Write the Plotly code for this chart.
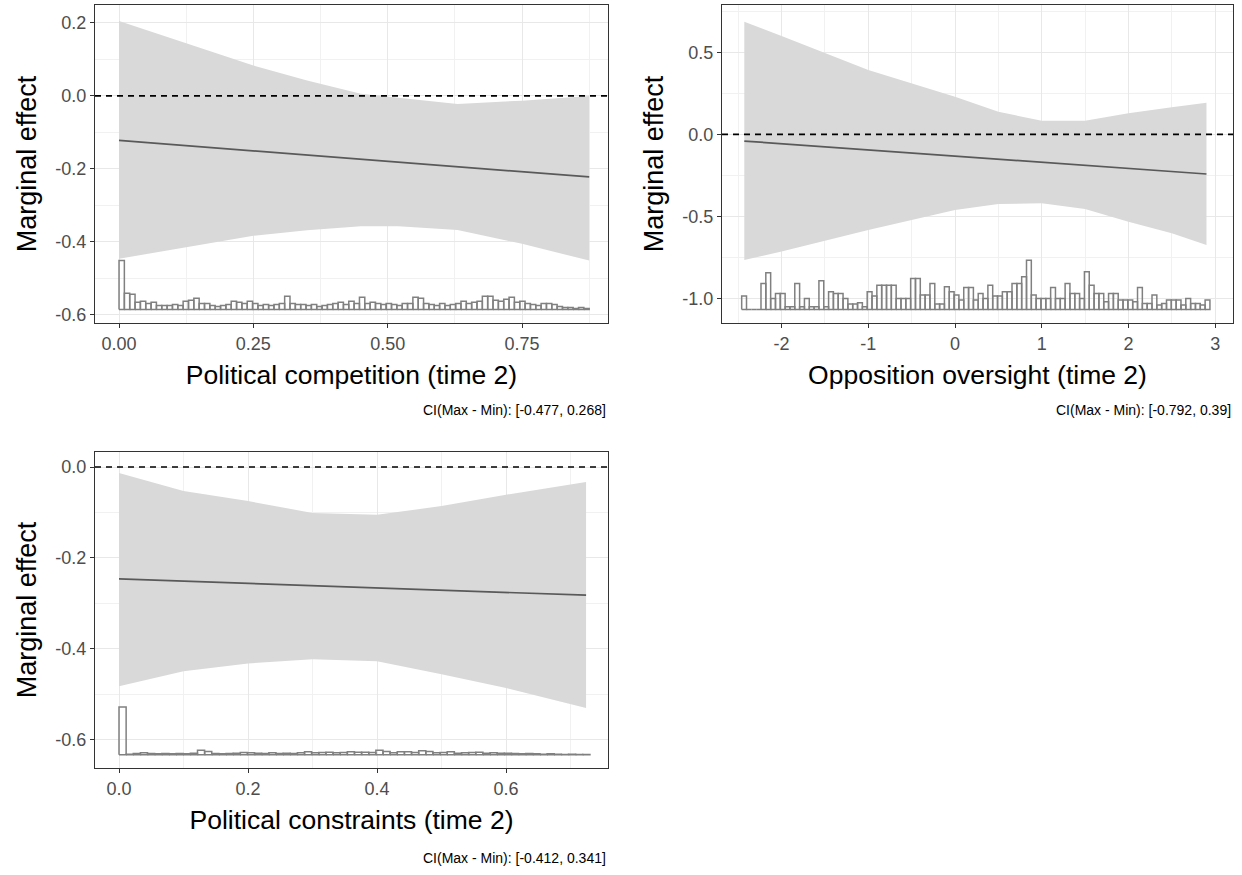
import plotly.graph_objects as go
import numpy as np

# ---------------- data ----------------
# Panel 1: Political competition (time 2)
p1_x = [0, 0.125, 0.25, 0.35, 0.45, 0.52, 0.63, 0.75, 0.875]
p1_upper = [0.205, 0.145, 0.083, 0.042, 0.006, -0.005, -0.022, -0.013, 0.0]
p1_lower = [-0.446, -0.414, -0.383, -0.368, -0.357, -0.357, -0.367, -0.405, -0.451]
p1_line_x = [0, 0.875]
p1_line_y = [-0.122, -0.222]
p1_hist_range = [0, 0.875]
p1_hist_counts = [48, 16, 15, 7, 8, 6, 7, 4, 4, 4,
                  5, 4, 8, 9, 11, 6, 6, 4, 3, 4,
                  5, 8, 7, 6, 8, 6, 4, 5, 4, 5,
                  6, 13, 6, 5, 5, 4, 5, 3, 4, 5,
                  6, 7, 5, 8, 6, 12, 6, 7, 6, 5,
                  6, 5, 4, 6, 6, 12, 11, 6, 5, 4,
                  6, 4, 5, 6, 8, 6, 7, 8, 13, 13,
                  9, 8, 10, 12, 7, 8, 6, 5, 4, 6,
                  6, 5, 3, 2, 2, 1, 2, 1]
p1_hist_base, p1_hist_height = -0.585, 0.134
p1_caption = "CI(Max - Min): [-0.477, 0.268]"

# Panel 2: Opposition oversight (time 2)
p2_x = [-2.43, -2.0, -1.0, -0.5, 0.0, 0.5, 1.0, 1.5, 2.0, 2.5, 2.9]
p2_upper = [0.687, 0.600, 0.392, 0.311, 0.230, 0.138, 0.083, 0.083, 0.128, 0.165, 0.193]
p2_lower = [-0.766, -0.715, -0.583, -0.522, -0.461, -0.425, -0.421, -0.455, -0.533, -0.604, -0.675]
p2_line_x = [-2.43, 2.90]
p2_line_y = [-0.041, -0.242]
p2_hist_range = [-2.46, 2.94]
p2_hist_counts = [40, 0, 0, 0, 78, 110, 33, 48, 48, 8,
                  8, 78, 8, 33, 8, 8, 86, 8, 53, 48,
                  48, 33, 16, 16, 20, 8, 53, 40, 73, 73,
                  73, 73, 33, 33, 33, 93, 93, 43, 43, 78,
                  16, 16, 68, 53, 43, 28, 66, 66, 28, 48,
                  33, 73, 40, 40, 53, 53, 78, 78, 98, 148,
                  43, 33, 33, 33, 66, 33, 33, 78, 48, 48,
                  33, 113, 73, 48, 48, 23, 48, 48, 28, 28,
                  28, 23, 66, 18, 18, 43, 13, 18, 28, 28,
                  28, 13, 33, 18, 18, 13, 28]
p2_hist_base, p2_hist_height = -1.068, 0.30
p2_caption = "CI(Max - Min): [-0.792, 0.39]"

# Panel 3: Political constraints (time 2)
p3_x = [0, 0.1, 0.2, 0.3, 0.4, 0.5, 0.6, 0.724]
p3_upper = [-0.013, -0.053, -0.075, -0.101, -0.105, -0.086, -0.061, -0.033]
p3_lower = [-0.482, -0.449, -0.432, -0.423, -0.427, -0.456, -0.486, -0.530]
p3_line_x = [0, 0.724]
p3_line_y = [-0.246, -0.282]
p3_hist_range = [0, 0.73]
p3_hist_counts = [143, 2, 4, 6, 4, 3, 4, 3, 4, 3,
                  5, 14, 10, 4, 3, 4, 5, 7, 6, 5,
                  4, 6, 4, 5, 4, 6, 9, 6, 7, 8,
                  6, 7, 9, 8, 8, 7, 14, 10, 6, 9,
                  9, 7, 12, 10, 6, 7, 9, 5, 6, 7,
                  8, 5, 6, 5, 5, 4, 3, 4, 3, 2,
                  3, 2, 1, 2, 1, 1]
p3_hist_base, p3_hist_height = -0.633, 0.105
p3_caption = "CI(Max - Min): [-0.412, 0.341]"

x_titles = ["Political competition (time 2)", "Opposition oversight (time 2)",
            "Political constraints (time 2)"]
y_title = "Marginal effect"

x1_ticks = [0, 0.25, 0.5, 0.75]; x1_labels = ["0.00", "0.25", "0.50", "0.75"]
y1_ticks = [-0.6, -0.4, -0.2, 0.0, 0.2]; y1_labels = ["-0.6", "-0.4", "-0.2", "0.0", "0.2"]
x2_ticks = [-2, -1, 0, 1, 2, 3]; x2_labels = ["-2", "-1", "0", "1", "2", "3"]
y2_ticks = [-1.0, -0.5, 0.0, 0.5]; y2_labels = ["-1.0", "-0.5", "0.0", "0.5"]
x3_ticks = [0, 0.2, 0.4, 0.6]; x3_labels = ["0.0", "0.2", "0.4", "0.6"]
y3_ticks = [-0.6, -0.4, -0.2, 0.0]; y3_labels = ["-0.6", "-0.4", "-0.2", "0.0"]

# ---------------- styling ----------------
FONT = "Liberation Sans, Arial, sans-serif"
BAND = "#d9d9d9"
LINE = "#595959"
HIST = "#808080"
GRID = "#e8e8e8"
MINOR = "#f1f1f1"
W, H = 1242, 875

fig = go.Figure()


def add_panel(n, bx, up, lo, lx, ly, hrange, counts, hbase, hheight):
    xa = "x" if n == 1 else f"x{n}"
    ya = "y" if n == 1 else f"y{n}"
    fig.add_trace(go.Scatter(x=list(bx) + list(bx)[::-1], y=list(up) + list(lo)[::-1],
                             fill="toself", fillcolor=BAND, line=dict(width=0),
                             mode="lines", hoverinfo="skip", showlegend=False,
                             xaxis=xa, yaxis=ya))
    edges = np.linspace(hrange[0], hrange[1], len(counts) + 1)
    cmax = max(counts)
    xs, ys = [], []
    for l, r, c in zip(edges[:-1], edges[1:], counts):
        t = hbase + c / cmax * hheight
        xs += [l, l, r, r, l, None]
        ys += [hbase, t, t, hbase, hbase, None]
    fig.add_trace(go.Scatter(x=xs, y=ys, mode="lines", line=dict(color=HIST, width=1.5),
                             hoverinfo="skip", showlegend=False, xaxis=xa, yaxis=ya))
    fig.add_trace(go.Scatter(x=lx, y=ly, mode="lines", line=dict(color=LINE, width=1.7),
                             showlegend=False, xaxis=xa, yaxis=ya))
    fig.add_shape(type="line", xref=f"{xa} domain", yref=ya, x0=0, x1=1, y0=0, y1=0,
                  line=dict(color="black", width=1.6, dash="6px,5px"), layer="above")


add_panel(1, p1_x, p1_upper, p1_lower, p1_line_x, p1_line_y, p1_hist_range,
          p1_hist_counts, p1_hist_base, p1_hist_height)
add_panel(2, p2_x, p2_upper, p2_lower, p2_line_x, p2_line_y, p2_hist_range,
          p2_hist_counts, p2_hist_base, p2_hist_height)
add_panel(3, p3_x, p3_upper, p3_lower, p3_line_x, p3_line_y, p3_hist_range,
          p3_hist_counts, p3_hist_base, p3_hist_height)


def mid(v):
    return [(a + b) / 2 for a, b in zip(v[:-1], v[1:])]


def axis(domain, rng, tv, tt, title, anchor, minor_vals, standoff, tsize):
    return dict(domain=domain, range=rng, anchor=anchor, tickmode="array",
                tickvals=tv, ticktext=tt, showgrid=True, gridcolor=GRID, gridwidth=1.3,
                zeroline=False, showline=True, mirror=True, linecolor="#333333",
                linewidth=1.1, ticks="outside", ticklen=4, tickwidth=1.1,
                tickcolor="#333333",
                tickfont=dict(family=FONT, size=18, color="#4d4d4d"),
                title=dict(text=title, font=dict(family=FONT, size=tsize, color="black"),
                           standoff=standoff),
                minor=dict(tickmode="array", tickvals=minor_vals, showgrid=True,
                           gridcolor=MINOR, gridwidth=1.0, ticklen=0),
                automargin=False)


def xdom(a, b):
    return [a / W, b / W]


def ydom(top, bottom):
    return [1 - bottom / H, 1 - top / H]


x1_minor = mid(x1_ticks) + [x1_ticks[-1] + 0.125]
y1_minor = mid(y1_ticks)
x2_minor = [t + 0.5 for t in [-3] + x2_ticks]
y2_minor = [t + 0.25 for t in [-1.25] + y2_ticks]
x3_minor = mid(x3_ticks) + [0.7]
y3_minor = mid(y3_ticks)

fig.update_layout(
    width=W, height=H,
    margin=dict(l=0, r=0, t=0, b=0),
    paper_bgcolor="white", plot_bgcolor="white",
    showlegend=False,
    xaxis=axis(xdom(95, 608), [-0.0447, 0.910], x1_ticks, x1_labels, x_titles[0], "y", x1_minor, 12, 26.5),
    yaxis=axis(ydom(5, 323), [-0.622, 0.249], y1_ticks, y1_labels, y_title, "x", y1_minor, 10, 27),
    xaxis2=axis(xdom(722, 1233), [-2.687, 3.206], x2_ticks, x2_labels, x_titles[1], "y2", x2_minor, 12, 26.5),
    yaxis2=axis(ydom(5, 323), [-1.151, 0.789], y2_ticks, y2_labels, y_title, "x2", y2_minor, 10, 27),
    xaxis3=axis(xdom(95, 608), [-0.0372, 0.758], x3_ticks, x3_labels, x_titles[2], "y3", x3_minor, 12, 26.5),
    yaxis3=axis(ydom(452, 768), [-0.662, 0.033], y3_ticks, y3_labels, y_title, "x3", y3_minor, 10, 27),
)

for text, xr, yc in [(p1_caption, 608, 410), (p2_caption, 1233, 410), (p3_caption, 608, 858)]:
    fig.add_annotation(text=text, xref="paper", yref="paper", x=xr / W, y=1 - yc / H,
                       xanchor="right", yanchor="middle", showarrow=False,
                       font=dict(family=FONT, size=14, color="black"))

fig.write_html("out.html", config={"displayModeBar": False},
               post_script="document.body.style.margin='0';document.body.style.overflow='hidden';")
